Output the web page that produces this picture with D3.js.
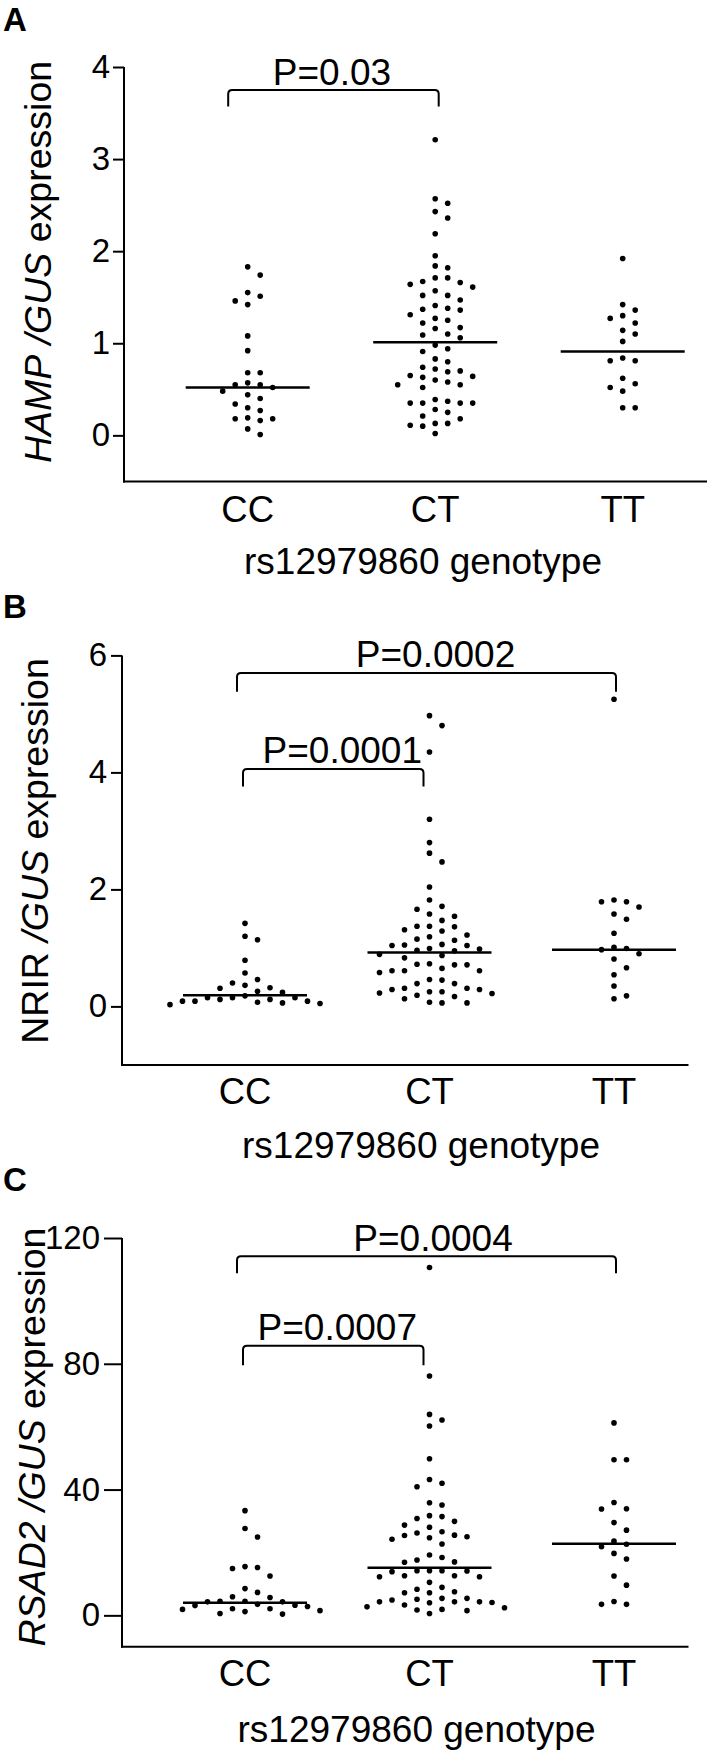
<!DOCTYPE html>
<html><head><meta charset="utf-8">
<script src="https://cdn.jsdelivr.net/npm/d3@7"></script>
<style>
html,body{margin:0;padding:0;background:#fff;}
svg text{font-family:"Liberation Sans", Arial, Helvetica, sans-serif; fill:#000;}
</style></head><body>
<svg id="chart" width="708" height="1751"></svg>
<script>
// ---------------- DATA ----------------
const categories = ["CC", "CT", "TT"];

// Panel A: HAMP / GUS
const hampCC = [1.83, 1.74, 1.55, 1.51, 1.46, 1.42, 1.08, 0.92, 0.68, 0.68, 0.57, 0.55, 0.55, 0.52, 0.48, 0.44, 0.40, 0.34, 0.30, 0.27, 0.19, 0.18, 0.18, 0.16, 0.07, 0.01];
const hampCT = [3.21, 2.57, 2.52, 2.43, 2.36, 2.19, 1.95, 1.84, 1.82, 1.71, 1.71, 1.67, 1.66, 1.64, 1.61, 1.57, 1.52, 1.52, 1.47, 1.41, 1.38, 1.37, 1.36, 1.31, 1.27, 1.25, 1.22, 1.17, 1.16, 1.10, 1.09, 1.06, 0.98, 0.94, 0.91, 0.83, 0.80, 0.74, 0.72, 0.70, 0.69, 0.65, 0.64, 0.63, 0.60, 0.58, 0.55, 0.55, 0.52, 0.39, 0.37, 0.35, 0.35, 0.35, 0.35, 0.28, 0.25, 0.21, 0.18, 0.13, 0.13, 0.11, 0.10, 0.02];
const hampTT = [1.92, 1.42, 1.36, 1.30, 1.27, 1.22, 1.14, 1.10, 1.02, 0.84, 0.81, 0.81, 0.62, 0.56, 0.52, 0.48, 0.30, 0.30];
const hampMedians = [0.52, 1.01, 0.91];
const hampTicks = [0, 1, 2, 3, 4];
const hampTickLabels = ["0", "1", "2", "3", "4"];
const hampBrackets = [{ from: "CC", to: "CT", label: "P=0.03", top: 3.75, foot: 3.57 }];

// Panel B: NRIR / GUS
const nrirCC = [1.42, 1.20, 1.14, 0.79, 0.57, 0.46, 0.40, 0.36, 0.32, 0.31, 0.26, 0.24, 0.18, 0.15, 0.15, 0.15, 0.12, 0.12, 0.09, 0.09, 0.09, 0.07, 0.06, 0.05, 0.03];
const nrirCT = [4.97, 4.80, 4.35, 3.20, 2.80, 2.62, 2.47, 2.04, 1.82, 1.71, 1.66, 1.58, 1.54, 1.47, 1.37, 1.37, 1.36, 1.31, 1.29, 1.22, 1.19, 1.15, 1.13, 1.06, 1.05, 1.04, 1.04, 0.99, 0.98, 0.96, 0.95, 0.89, 0.87, 0.83, 0.73, 0.72, 0.71, 0.71, 0.65, 0.61, 0.61, 0.61, 0.58, 0.46, 0.45, 0.39, 0.39, 0.31, 0.31, 0.29, 0.29, 0.25, 0.25, 0.23, 0.22, 0.19, 0.17, 0.13, 0.07, 0.06, 0.06];
const nrirTT = [5.25, 1.82, 1.79, 1.79, 1.70, 1.58, 1.49, 1.25, 1.01, 0.99, 0.97, 0.90, 0.81, 0.66, 0.54, 0.35, 0.18, 0.13];
const nrirMedians = [0.19, 0.92, 0.97];
const nrirTicks = [0, 2, 4, 6];
const nrirTickLabels = ["0", "2", "4", "6"];
const nrirBrackets = [
  { from: "CC", to: "TT", label: "P=0.0002", top: 5.70, foot: 5.38 },
  { from: "CC", to: "CT", label: "P=0.0001", top: 4.06, foot: 3.76 }
];

// Panel C: RSAD2 / GUS
const rsadCC = [33.3, 27.6, 24.9, 15.5, 15.2, 14.9, 12.5, 8.5, 7.3, 5.9, 5.7, 4.5, 4.5, 4.3, 4.3, 3.5, 3.2, 3.1, 2.8, 2.1, 2.1, 1.9, 1.5, 1.2, 0.6, 0.4];
const rsadCT = [110.6, 76.1, 63.9, 62.1, 60.2, 49.8, 43.2, 42.0, 40.9, 35.8, 35.1, 31.7, 31.4, 30.8, 29.9, 28.7, 28.0, 26.6, 26.2, 25.5, 25.4, 25.0, 24.7, 24.2, 22.7, 19.2, 18.4, 17.6, 17.0, 16.9, 14.2, 14.2, 14.2, 14.1, 13.9, 12.6, 12.6, 12.3, 12.3, 10.5, 8.9, 8.3, 7.5, 7.2, 7.2, 5.4, 5.4, 5.1, 4.9, 4.3, 4.3, 4.3, 4.1, 4.0, 3.3, 2.7, 2.4, 1.9, 1.7, 1.5, 0.6];
const rsadTT = [61.2, 49.5, 49.5, 35.9, 33.9, 33.8, 29.5, 27.1, 23.6, 22.6, 21.8, 19.7, 17.9, 12.5, 9.6, 4.4, 3.5, 3.5];
const rsadMedians = [4.0, 15.1, 22.8];
const rsadTicks = [0, 40, 80, 120];
const rsadTickLabels = ["0", "40", "80", "120"];
const rsadBrackets = [
  { from: "CC", to: "TT", label: "P=0.0004", top: 114.2, foot: 108.8 },
  { from: "CC", to: "CT", label: "P=0.0007", top: 85.7, foot: 79.5 }
];

const xAxisTitle = "rs12979860 genotype";

// ---------------- LAYOUT ----------------
const panels = [
  {
    letter: "A", letterY: 31,
    yLabel: [{ t: "HAMP", i: true }, { t: " ", i: false }, { t: "/GUS", i: true }, { t: " expression", i: false }],
    yLabelPos: [37, 262],
    groups: [hampCC, hampCT, hampTT], medians: hampMedians,
    ticks: hampTicks, tickLabels: hampTickLabels, brackets: hampBrackets,
    domain: [-0.5, 4], yRange: [481.4, 67],
    axisX: 124, axisRight: 707, xRange: [247.7, 622.7], tickLen: 11, tickPad: 3,
    catY: 522, titleY: 574, titleX: 423,
    bracketAdj: [[-19.5, 3.5, -1.5]]
  },
  {
    letter: "B", letterY: 618,
    yLabel: [{ t: "NRIR", i: false }, { t: " ", i: false }, { t: "/GUS", i: true }, { t: " expression", i: false }],
    yLabelPos: [34, 851],
    groups: [nrirCC, nrirCT, nrirTT], medians: nrirMedians,
    ticks: nrirTicks, tickLabels: nrirTickLabels, brackets: nrirBrackets,
    domain: [-1, 6], yRange: [1064.9, 655.4],
    axisX: 122, axisRight: 688.5, xRange: [245, 614], tickLen: 11, tickPad: 4,
    catY: 1104, titleY: 1158, titleX: 421,
    bracketAdj: [[-8, 2, 9], [-2, -6, 9]]
  },
  {
    letter: "C", letterY: 1191,
    yLabel: [{ t: "RSAD2", i: true }, { t: " ", i: false }, { t: "/GUS", i: true }, { t: " expression", i: false }],
    yLabelPos: [31.6, 1437],
    groups: [rsadCC, rsadCT, rsadTT], medians: rsadMedians,
    ticks: rsadTicks, tickLabels: rsadTickLabels, brackets: rsadBrackets,
    domain: [-10, 120], yRange: [1646.8, 1238],
    axisX: 122, axisRight: 688.5, xRange: [245, 614], tickLen: 18, tickPad: 4,
    catY: 1686, titleY: 1742, titleX: 416.5,
    bracketAdj: [[-8, 2, 6.5], [-2, -6, 4]]
  }
];

const svg = d3.select("#chart");
const FONT = 36.5;
const TICK_FONT = 33;
const DOT_R = 2.8;
const STEP = 12.5;
const MIN_GAP = 10;
const MED_HALF = 62;

function swarm(values, y) {
  const pts = values.map(v => ({ v, py: y(v) })).sort((a, b) => b.v - a.v);
  const placed = [];
  const order = [0, 1, -1, 2, -2, 3, -3, 4, -4, 5, -5, 6, -6];
  pts.forEach(p => {
    for (const k of order) {
      const clash = placed.some(q => q.k === k && Math.abs(q.py - p.py) < MIN_GAP);
      if (!clash) { p.k = k; placed.push(p); break; }
    }
  });
  return pts;
}

panels.forEach(P => {
  const g = svg.append("g");
  const y = d3.scaleLinear().domain(P.domain).range(P.yRange);
  const x = d3.scalePoint().domain(categories).range(P.xRange);

  // panel letter
  g.append("text").attr("x", 3).attr("y", P.letterY)
    .style("font-size", "33px").style("font-weight", "bold").text(P.letter);

  // y axis
  const yAxis = d3.axisLeft(y).tickValues(P.ticks)
    .tickFormat((d, i) => P.tickLabels[i]).tickSize(P.tickLen).tickSizeOuter(0).tickPadding(P.tickPad);
  const ya = g.append("g").attr("transform", `translate(${P.axisX},0)`).call(yAxis);
  ya.select(".domain").remove();
  ya.selectAll(".tick line").attr("stroke", "#000").attr("stroke-width", 2);
  ya.selectAll(".tick text").style("font-size", TICK_FONT + "px")
    .style("font-family", "'Liberation Sans', Arial, sans-serif").attr("fill", "#000");
  g.append("line").attr("x1", P.axisX).attr("x2", P.axisX)
    .attr("y1", y(P.ticks[P.ticks.length - 1])).attr("y2", y(P.domain[0]) + 1)
    .attr("stroke", "#000").attr("stroke-width", 2);

  // x axis line
  g.append("line").attr("x1", P.axisX - 1).attr("x2", P.axisRight)
    .attr("y1", y(P.domain[0])).attr("y2", y(P.domain[0]))
    .attr("stroke", "#000").attr("stroke-width", 2);

  // category labels
  g.selectAll(".cat").data(categories).enter().append("text")
    .attr("x", d => x(d)).attr("y", P.catY).attr("text-anchor", "middle")
    .style("font-size", FONT + "px").text(d => d);

  // x title
  g.append("text").attr("x", P.titleX).attr("y", P.titleY).attr("text-anchor", "middle")
    .style("font-size", "37px").text(xAxisTitle);

  // y title
  const yt = g.append("text")
    .attr("transform", `translate(${P.yLabelPos[0]},${P.yLabelPos[1]}) rotate(-90)`)
    .attr("text-anchor", "middle").attr("dy", "0.36em").style("font-size", "37.5px");
  P.yLabel.forEach(s => yt.append("tspan").style("font-style", s.i ? "italic" : "normal").text(s.t));

  // dots
  categories.forEach((c, ci) => {
    const pts = swarm(P.groups[ci], y);
    g.selectAll(null).data(pts).enter().append("circle")
      .attr("cx", d => x(c) + d.k * STEP).attr("cy", d => d.py)
      .attr("r", DOT_R).attr("fill", "#000");
    g.append("line")
      .attr("x1", x(c) - MED_HALF).attr("x2", x(c) + MED_HALF)
      .attr("y1", y(P.medians[ci])).attr("y2", y(P.medians[ci]))
      .attr("stroke", "#000").attr("stroke-width", 2.5);
  });

  // brackets
  P.brackets.forEach((b, bi) => {
    const adj = P.bracketAdj[bi];
    const x1 = x(b.from) + adj[0], x2 = x(b.to) + adj[1];
    const yt0 = y(b.top), yf = y(b.foot), r = 4;
    const path = `M${x1},${yf} L${x1},${yt0 + r} Q${x1},${yt0} ${x1 + r},${yt0} L${x2 - r},${yt0} Q${x2},${yt0} ${x2},${yt0 + r} L${x2},${yf}`;
    g.append("path").attr("d", path).attr("fill", "none").attr("stroke", "#000").attr("stroke-width", 2);
    g.append("text").attr("x", (x1 + x2) / 2 + adj[2]).attr("y", yt0 - 5.5)
      .attr("text-anchor", "middle").style("font-size", "37px").text(b.label);
  });
});
</script>
</body></html>
